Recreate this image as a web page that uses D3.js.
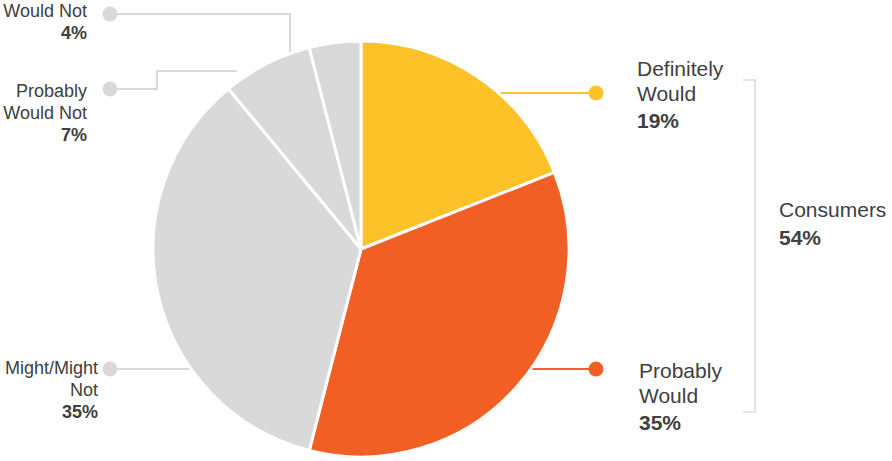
<!DOCTYPE html>
<html lang="en">
    <head>
        <meta charset="utf-8">
        <title>Purchase Intent Pie</title>
        <script type="text/javascript" src="https://d3js.org/d3.v7.min.js"></script>
        <style type="text/css">
            body { margin: 0; background: #fff; }
            text { font-family: "Liberation Sans", Arial, sans-serif; fill: #404040; }
        </style>
    </head>
    <body>
        <script type="text/javascript">

        //Data
        const categories = ["Definitely Would", "Probably Would", "Might/Might Not", "Probably Would Not", "Would Not"];
        const values = [19, 35, 35, 7, 4];
        const labelLines = [["Definitely", "Would"], ["Probably", "Would"], ["Might/Might", "Not"], ["Probably", "Would Not"], ["Would Not"]];
        const colors = ["#fec229", "#f15f24", "#d9d9d9", "#d9d9d9", "#d9d9d9"];
        const groupLabel = "Consumers";
        const groupValue = 54;

        //Layout
        const width = 892;
        const height = 461;
        const cx = 361, cy = 249, radius = 208;
        const dotR = 7.5;

        const svg = d3.select("body")
                    .append("svg")
                    .attr("width", width)
                    .attr("height", height);

        const pie = d3.pie().sort(null).value(d => d);
        const arc = d3.arc().innerRadius(0).outerRadius(radius);
        const arcs = pie(values);

        //x on the pie edge for a given y, left or right side
        const edgeX = (y, side) => cx + side * Math.sqrt(radius * radius - (y - cy) * (y - cy));
        const edgeY = x => cy - Math.sqrt(radius * radius - (x - cx) * (x - cx));

        //Leader lines (drawn under the pie)
        const leaders = svg.append("g");
        const lineColor = i => i < 2 ? colors[i] : "#d9d9d9";

        // label anchors: dot position, text anchor x, side
        const anchors = [
            {dot: [596, 93], tx: 637, side: 1, base: 76},
            {dot: [596, 369], tx: 639, side: 1, base: 378},
            {dot: [110, 369], tx: 98, side: -1, base: 374},
            {dot: [110, 89], tx: 87, side: -1, base: 97},
            {dot: [110, 14], tx: 87, side: -1, base: 17}
        ];

        const paths = [
            [anchors[0].dot, [edgeX(93, 1) - 4, 93]],
            [anchors[1].dot, [edgeX(369, 1) - 4, 369]],
            [anchors[2].dot, [edgeX(369, -1) + 4, 369]],
            [anchors[3].dot, [157, 89], [157, 71], [237, 71]],
            [anchors[4].dot, [290, 14], [290, edgeY(290) + 2]]
        ];

        leaders.selectAll("path")
            .data(paths)
            .enter()
            .append("path")
            .attr("d", d => d3.line()(d))
            .attr("fill", "none")
            .attr("stroke", (d, i) => lineColor(i))
            .attr("stroke-width", 2);

        //Slices
        svg.append("g")
            .attr("transform", "translate(" + cx + "," + cy + ")")
            .selectAll("path")
            .data(arcs)
            .enter()
            .append("path")
            .attr("d", arc)
            .attr("fill", (d, i) => colors[i])
            .attr("stroke", "#fff")
            .attr("stroke-width", 3)
            .attr("stroke-linejoin", "round");

        //Dots
        svg.selectAll("circle.dot")
            .data(anchors)
            .enter()
            .append("circle")
            .attr("class", "dot")
            .attr("cx", d => d.dot[0])
            .attr("cy", d => d.dot[1])
            .attr("r", dotR)
            .attr("fill", (d, i) => lineColor(i));

        //Labels
        anchors.forEach((a, i) => {
            const right = a.side === 1;
            const fs = right ? 21 : 18;
            const gap = right ? 25 : 22;
            const t = svg.append("text")
                .attr("x", a.tx)
                .attr("y", a.base)
                .attr("text-anchor", right ? "start" : "end")
                .style("font-size", fs + "px");
            labelLines[i].forEach((l, j) => {
                t.append("tspan").attr("x", a.tx).attr("y", a.base + j * gap).text(l);
            });
            t.append("tspan")
                .attr("x", a.tx)
                .attr("y", a.base + labelLines[i].length * gap + (right ? 2 : 0))
                .style("font-weight", "bold")
                .text(values[i] + "%");
        });

        //Bracket for consumers
        svg.append("path")
            .attr("d", d3.line()([[743, 80], [755, 80], [755, 412], [743, 412]]))
            .attr("fill", "none")
            .attr("stroke", "#dcdcdc")
            .attr("stroke-width", 1.5);

        const g = svg.append("text")
            .attr("x", 779)
            .attr("y", 217)
            .style("font-size", "21px");
        g.append("tspan").attr("x", 779).text(groupLabel);
        g.append("tspan").attr("x", 779).attr("y", 245).style("font-weight", "bold").text(groupValue + "%");

        </script>
    </body>
</html>
